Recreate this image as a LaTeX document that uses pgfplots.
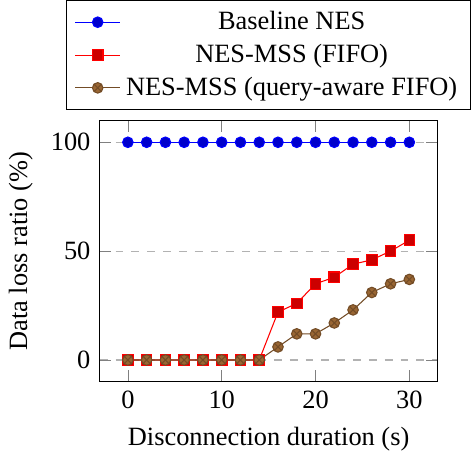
\documentclass[border=0pt]{standalone}
\usepackage{fontspec}
\setmainfont{Liberation Serif}
\usepackage{pgfplots}
\pgfplotsset{compat=1.18}
\begin{document}
\begin{tikzpicture}
\begin{axis}[
scale only axis,
width=128pt, height=99pt,
/pgf/number format/assume math mode=true,
xmin=-3, xmax=33,
ymin=-10, ymax=110,
xtick={0,10,20,30},
ytick={0,50,100},
ymajorgrids,
grid style={dashed, gray!60},
xlabel={Disconnection duration (s)},
ylabel={Data loss ratio (\%)},
legend cell align=center,
legend style={at={(0.5,1.04)}, anchor=south},
]
\addplot coordinates {
(0,100) (2,100) (4,100) (6,100) (8,100) (10,100) (12,100) (14,100)
(16,100) (18,100) (20,100) (22,100) (24,100) (26,100) (28,100) (30,100)
};
\addlegendentry{Baseline NES}
\addplot coordinates {
(0,0) (2,0) (4,0) (6,0) (8,0) (10,0) (12,0) (14,0)
(16,22) (18,26) (20,35) (22,38) (24,44) (26,46) (28,50) (30,55)
};
\addlegendentry{NES-MSS (FIFO)}
\addplot coordinates {
(0,0) (2,0) (4,0) (6,0) (8,0) (10,0) (12,0) (14,0)
(16,6) (18,12) (20,12) (22,17) (24,23) (26,31) (28,35) (30,37)
};
\addlegendentry{NES-MSS (query-aware FIFO)}
\end{axis}
\end{tikzpicture}
\end{document}
